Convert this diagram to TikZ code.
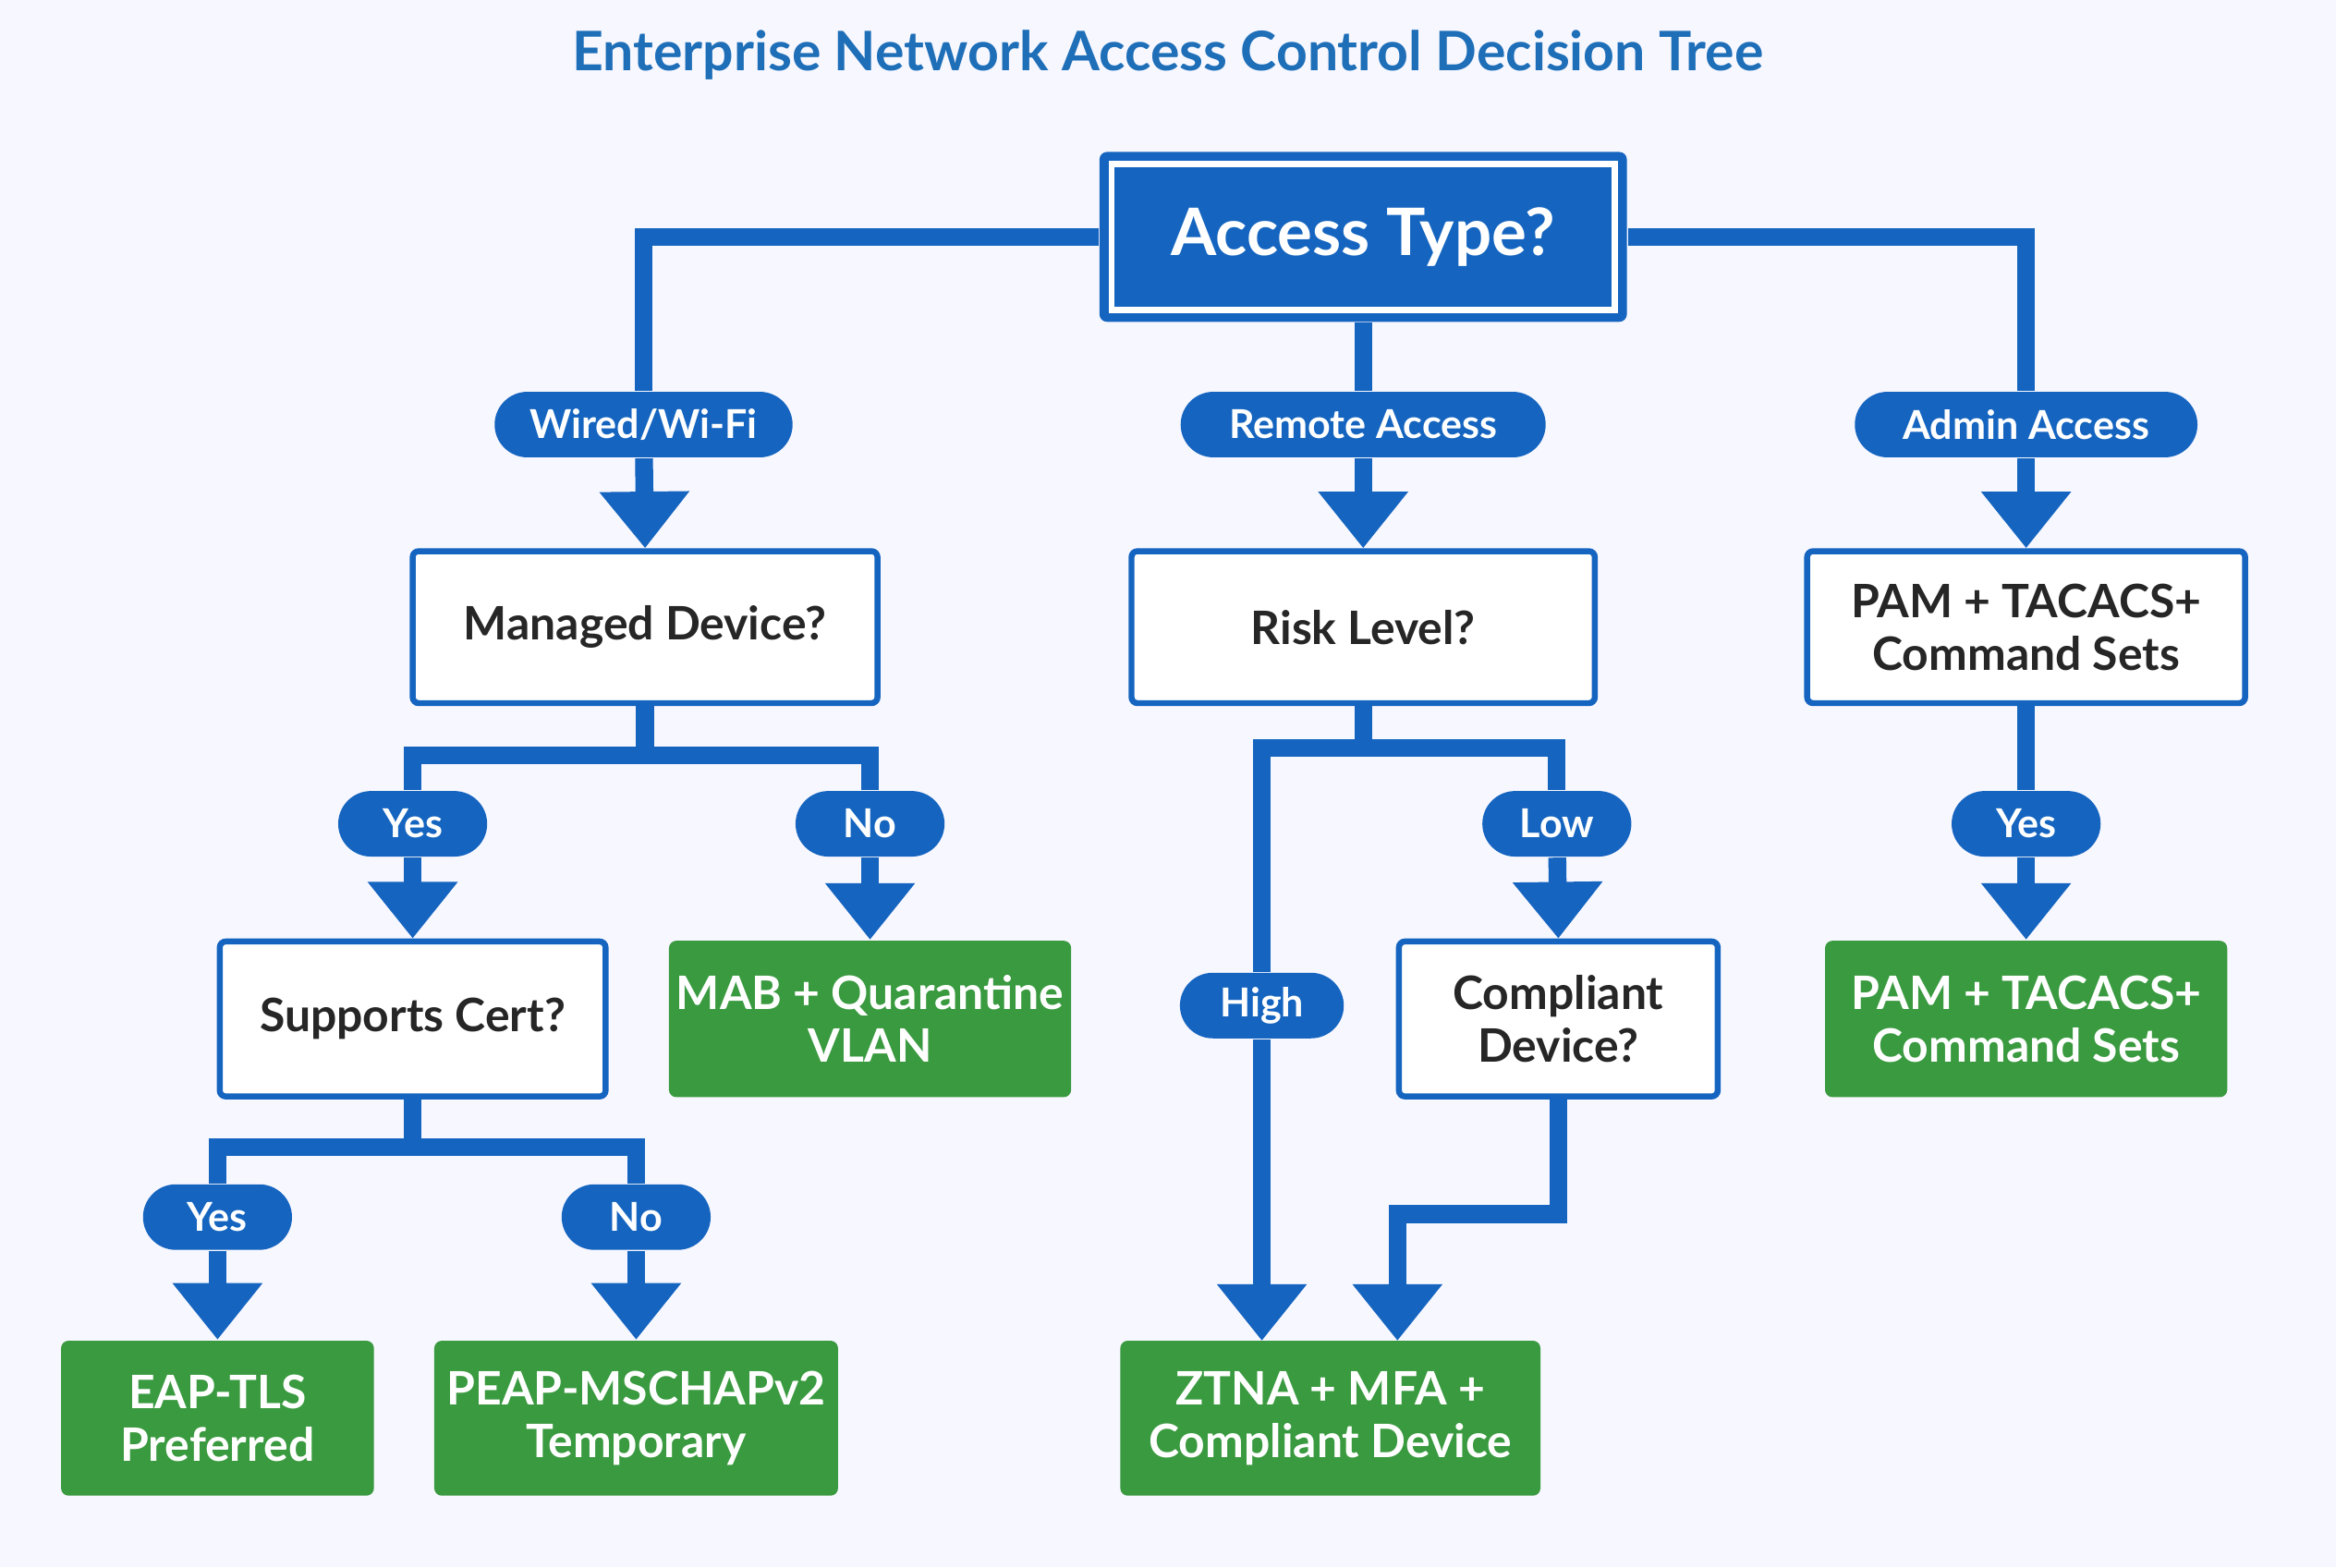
\documentclass[tikz,border=0pt]{standalone}
\usepackage{fontspec}
\setmainfont{Lato}
\usetikzlibrary{arrows.meta,backgrounds}
\definecolor{bl}{HTML}{1565C0}
\definecolor{tl}{HTML}{1E6FB8}
\definecolor{gr}{HTML}{3A9A40}
\begin{document}
\begin{tikzpicture}[x=0.1mm,y=-0.1mm,
 ln/.style={line width=1.2mm,draw=bl},
 arr/.style={ln,-{Triangle[length=3.8mm,width=5.8mm]}},
 pill/.style={fill=bl,rounded corners=2.2mm,minimum height=4.4mm,inner sep=0,text=white,font=\fontsize{7.6}{8}\selectfont\bfseries},
 q/.style={draw=bl,line width=0.4mm,fill=white,rounded corners=0.4mm,inner sep=0,align=center,font=\fontsize{8.8}{10}\selectfont\bfseries,text=black!85},
 g/.style={fill=gr,rounded corners=0.5mm,inner sep=0,align=center,font=\fontsize{8.8}{10}\selectfont\bfseries,text=white}]
\useasboundingbox (0,0) rectangle (1568,1052);
\node[text=tl,font=\fontsize{10.4}{12}\selectfont\bfseries] (title) at (784,37) {Enterprise Network Access Control Decision Tree};
\node[fill=bl,minimum width=35.4mm,minimum height=11.4mm,inner sep=0,rounded corners=0.5mm] (root) at (915,159) {};
\draw[white,line width=0.4mm] (746,110) rectangle (1084,208);
\node[text=white,font=\fontsize{12.5}{14}\selectfont\bfseries] at (root) {Access Type?};
% pills
\node[pill,minimum width=20mm] (p1) at (432,285) {Wired/Wi-Fi};
\node[pill,minimum width=24.5mm] (p2) at (915,285) {Remote Access};
\node[pill,minimum width=23mm] (p3) at (1360,285) {Admin Access};
% level 2
\node[q,minimum width=31.2mm,minimum height=10.2mm] (m) at (433,421) {Managed Device?};
\node[q,minimum width=31.1mm,minimum height=10.2mm] (r) at (915,421) {Risk Level?};
\node[q,minimum width=29.4mm,minimum height=10.2mm] (pam) at (1360,421) {PAM + TACACS+\\Command Sets};
\node[pill,minimum width=10mm] (y1) at (277,553) {Yes};
\node[pill,minimum width=10mm] (n1) at (584,553) {No};
\node[pill,minimum width=10mm] (low) at (1045,553) {Low};
\node[pill,minimum width=10mm] (y3) at (1360,553) {Yes};
\node[pill,minimum width=11mm] (hi) at (847,675) {High};
% level 3
\node[q,minimum width=25.9mm,minimum height=10.4mm] (sc) at (277,684) {Supports Cert?};
\node[g,minimum width=27mm,minimum height=10.5mm] (mab) at (584,684) {MAB + Quarantine\\VLAN};
\node[q,minimum width=21.4mm,minimum height=10.4mm] (cd) at (1046,684) {Compliant\\Device?};
\node[g,minimum width=27mm,minimum height=10.5mm] (pamg) at (1360,684) {PAM + TACACS+\\Command Sets};
\node[pill,minimum width=10mm] (y2) at (146,817) {Yes};
\node[pill,minimum width=10mm] (n2) at (427,817) {No};
% leaves
\node[g,minimum width=21mm,minimum height=10.4mm] (eap) at (146,952) {EAP-TLS\\Preferred};
\node[g,minimum width=27.1mm,minimum height=10.4mm] (peap) at (427,952) {PEAP-MSCHAPv2\\Temporary};
\node[g,minimum width=28.2mm,minimum height=10.4mm] (z) at (893,952) {ZTNA + MFA +\\Compliant Device};
\coordinate (zh) at (847,900);
\coordinate (zt) at (938,900);
\coordinate (cb) at (938,815);
\begin{scope}[on background layer]
\fill[white!97!blue] (0,0) rectangle (1568,1052);
\draw[ln] (root.west) -| (p1);
\draw[ln] (root.east) -| (p3);
\draw[ln] (root.south) -- (p2);
\draw[arr] (p1) -- (m.north);
\draw[arr] (p2) -- (r.north);
\draw[arr] (p3) -- (pam.north);
\draw[ln] (m.south) -- ++(0,33) -| (y1);
\draw[ln] (m.south) -- ++(0,33) -| (n1);
\draw[arr] (y1) -- (sc.north);
\draw[arr] (n1) -- (mab.north);
\draw[ln] (r.south) -- ++(0,28) -| (hi);
\draw[ln] (r.south) -- ++(0,28) -| (low);
\draw[arr] (hi) -- (zh);
\draw[arr] (low) -- (cd.north);
\draw[ln] (pam.south) -- (y3);
\draw[arr] (y3) -- (pamg.north);
\draw[ln] (sc.south) -- ++(0,32) -| (y2);
\draw[ln] (sc.south) -- ++(0,32) -| (n2);
\draw[arr] (y2) -- (eap.north);
\draw[arr] (n2) -- (peap.north);
\draw[arr] (cd.south) |- (cb) -- (zt);
\end{scope}
\end{tikzpicture}
\end{document}
